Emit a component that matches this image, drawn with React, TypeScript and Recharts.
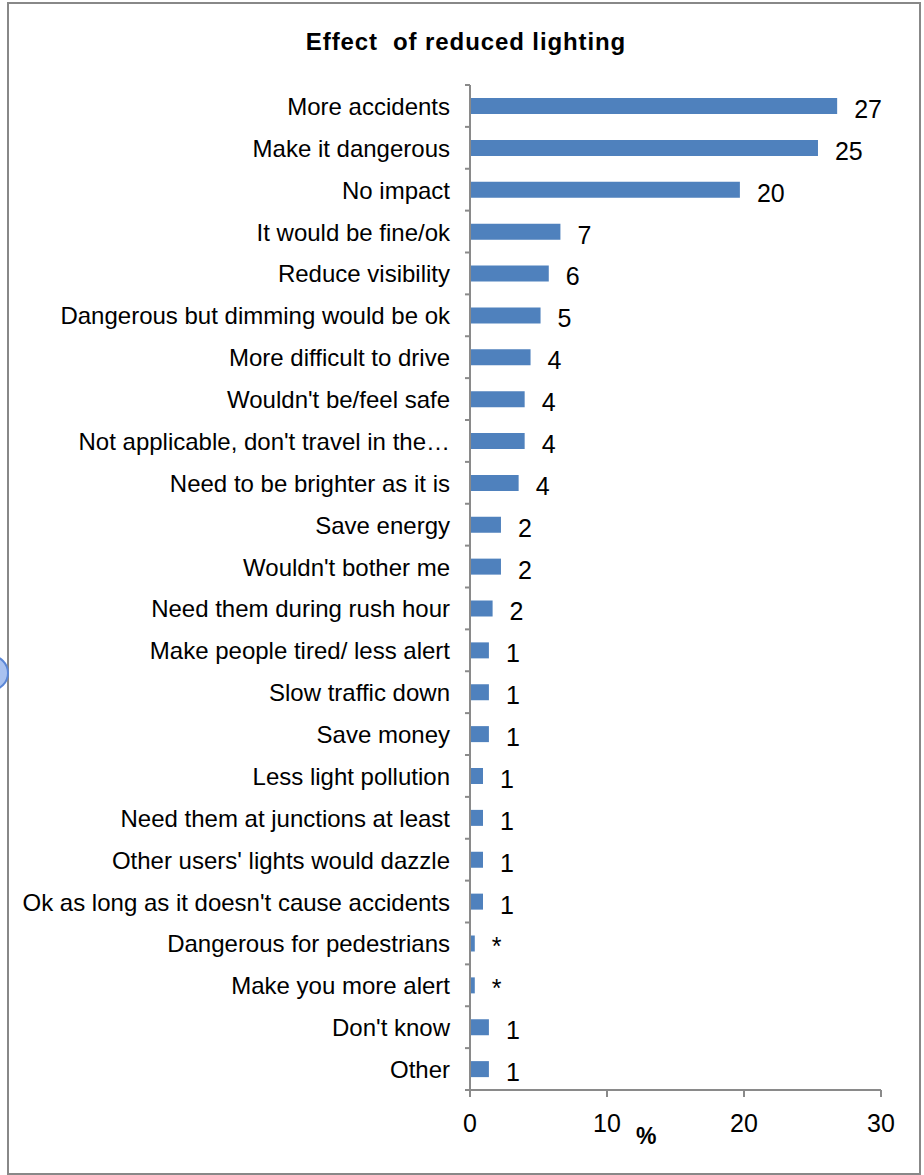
import { BarChart, Bar, XAxis, YAxis, LabelList } from "recharts";

const CATEGORIES = [
  "More accidents",
  "Make it dangerous",
  "No impact",
  "It would be fine/ok",
  "Reduce visibility",
  "Dangerous but dimming would be ok",
  "More difficult to drive",
  "Wouldn't be/feel safe",
  "Not applicable, don't travel in the…",
  "Need to be brighter as it is",
  "Save energy",
  "Wouldn't bother me",
  "Need them during rush hour",
  "Make people tired/ less alert",
  "Slow traffic down",
  "Save money",
  "Less light pollution",
  "Need them at junctions at least",
  "Other users' lights would dazzle",
  "Ok as long as it doesn't cause accidents",
  "Dangerous for pedestrians",
  "Make you more alert",
  "Don't know",
  "Other",
];

const VALUES = [
  26.8, 25.4, 19.7, 6.6, 5.75, 5.15, 4.42, 3.99, 3.99, 3.55, 2.26, 2.26,
  1.65, 1.38, 1.38, 1.38, 0.95, 0.95, 0.95, 0.95, 0.35, 0.35, 1.38, 1.38,
];

const VALUE_LABELS = [
  "27", "25", "20", "7", "6", "5", "4", "4", "4", "4", "2", "2",
  "2", "1", "1", "1", "1", "1", "1", "1", "*", "*", "1", "1",
];

const X_TICKS = [0, 10, 20, 30];

const data = CATEGORIES.map((name, i) => ({
  name,
  value: VALUES[i],
  label: VALUE_LABELS[i],
}));

const AXIS = "#8a8a8a";
const FONT = "'Liberation Sans', Arial, sans-serif";
const PLOT_TOP = 85;
const PLOT_BOTTOM = 1090;
const BAND = (PLOT_BOTTOM - PLOT_TOP) / CATEGORIES.length;

// category label plus a boundary tick mark (Excel puts ticks between categories)
function CategoryTick(props: any) {
  const { x, y, payload, index } = props;
  const axisX = x + 20;
  return (
    <g>
      <line x1={axisX - 5} x2={axisX} y1={y - BAND / 2} y2={y - BAND / 2} stroke={AXIS} strokeWidth={2} />
      {index === CATEGORIES.length - 1 && (
        <line x1={axisX - 5} x2={axisX} y1={y + BAND / 2} y2={y + BAND / 2} stroke={AXIS} strokeWidth={2} />
      )}
      <text x={x} y={y} dy={9} textAnchor="end" fontSize={24} fontFamily={FONT} fill="#000">
        {payload.value}
      </text>
    </g>
  );
}

export default function App() {
  return (
    <div style={{ position: "absolute", left: 0, top: 0, width: 924, height: 1175, background: "#fff", fontFamily: FONT }}>
      <div
        style={{
          position: "absolute",
          left: 7,
          top: 2,
          width: 910,
          height: 1169,
          border: "2px solid #888",
        }}
      />
      <div
        style={{
          position: "absolute",
          left: -27,
          top: 655,
          width: 32,
          height: 32,
          borderRadius: "50%",
          background: "#a9c2f0",
          border: "2px solid #5a86d6",
        }}
      />
      <div
        style={{
          position: "absolute",
          left: 0,
          width: 932,
          top: 28,
          textAlign: "center",
          fontWeight: "bold",
          fontSize: 24,
          letterSpacing: 0.9,
          color: "#000",
        }}
      >
        Effect&nbsp; of reduced lighting
      </div>
      <div style={{ position: "absolute", left: 636, top: 1123, fontWeight: "bold", fontSize: 23, color: "#000" }}>%</div>
      <div style={{ position: "absolute", left: 0, top: 0 }}>
        <BarChart
          width={924}
          height={1175}
          data={data}
          layout="vertical"
          margin={{ top: PLOT_TOP, right: 43, bottom: 0, left: 0 }}
          barSize={16}
        >
          <XAxis
            type="number"
            domain={[0, 30]}
            ticks={X_TICKS}
            height={1175 - PLOT_BOTTOM}
            stroke={AXIS}
            strokeWidth={2}
            tickSize={7}
            tickMargin={17}
            tick={{ fill: "#000", fontSize: 25, fontFamily: FONT }}
          />
          <YAxis
            type="category"
            dataKey="name"
            width={470}
            stroke={AXIS}
            strokeWidth={2}
            tickLine={false}
            tickSize={0}
            tickMargin={20}
            interval={0}
            tick={<CategoryTick />}
          />
          <Bar dataKey="value" fill="#4f81bd" isAnimationActive={false}>
            <LabelList
              dataKey="label"
              position="right"
              offset={17}
              fill="#000"
              fontSize={25}
              fontFamily={FONT}
              dy={3}
            />
          </Bar>
        </BarChart>
      </div>
    </div>
  );
}
